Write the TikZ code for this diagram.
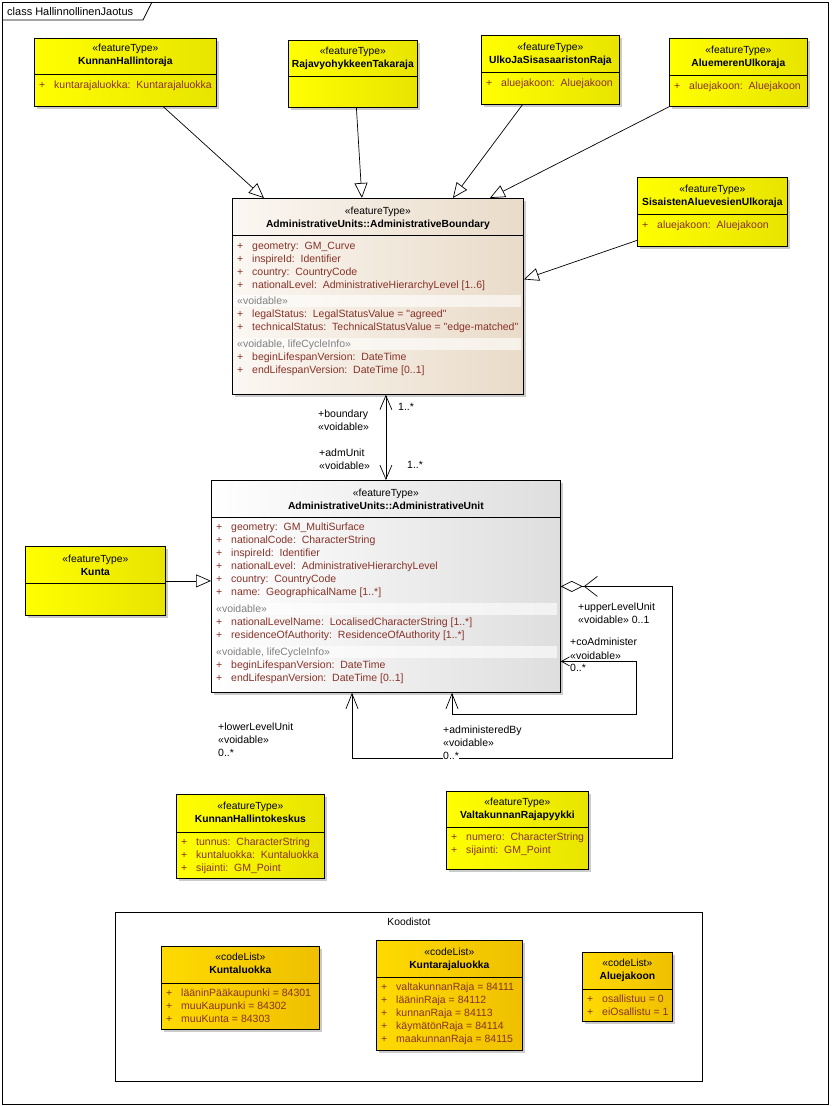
\documentclass[tikz,border=0pt]{standalone}
\usepackage{fontspec}
\setmainfont{Liberation Sans}[Ligatures=TeXOff]
\usetikzlibrary{arrows.meta, positioning, calc, shadows}
\definecolor{featY}{RGB}{255,255,0}
\definecolor{featYd}{RGB}{232,228,0}
\definecolor{codeY}{RGB}{255,218,0}
\definecolor{codeYd}{RGB}{238,192,0}
\definecolor{bndL}{RGB}{251,247,242}
\definecolor{bndR}{RGB}{233,219,201}
\definecolor{unitR}{RGB}{222,222,222}
\definecolor{attrC}{RGB}{135,50,40}
\definecolor{secC}{RGB}{128,128,128}
\newcommand{\pl}{\makebox[15pt][l]{+}}

\begin{document}
\begin{tikzpicture}[x=1pt, y=-1pt,
  cls/.style={draw=black, line width=0.8pt, anchor=north west, inner sep=0pt, drop shadow={shadow xshift=3pt, shadow yshift=-3pt, fill=black!40, opacity=0.5}},
  ftype/.style={cls, left color=featY, right color=featYd},
  clist/.style={cls, left color=codeY, right color=codeYd},
  hdr/.style={anchor=north, align=center, inner sep=0pt, font=\fontsize{10.3}{13}\selectfont},
  attr/.style={anchor=north west, align=left, inner sep=0pt, text=attrC, font=\fontsize{10.5}{13}\selectfont},
  lbl/.style={anchor=north west, align=left, inner sep=0pt, font=\fontsize{10.5}{13}\selectfont},
  band/.style={fill=white, opacity=0.6},
  gen/.style={line width=0.7pt, -{Triangle[fill=white, length=15pt, width=13pt]}},
  assoc/.style={line width=0.7pt}
]
  \useasboundingbox (0,0) rectangle (832,1106);
  \fill[white] (0,0) rectangle (832,1106);

  % frame
  \draw[line width=0.8pt] (2,2) rectangle (828,1104);
  \draw[line width=0.8pt] (2,20) -- (143,20) -- (152,2);
  \node[lbl, font=\fontsize{11}{13}\selectfont] (title) at (7,7) {class HallinnollinenJaotus};

  % feature types, top row
  \node[ftype, minimum width=182pt, minimum height=68pt] (kh) at (34,38) {};
  \node[hdr] (kh-t) at (kh.north |- 0,44) {«featureType»\\\textbf{KunnanHallintoraja}};
  \draw[line width=0.8pt] (kh.west |- 0,74) -- (kh.east |- 0,74);
  \node[attr] (kh-a) at (39,81) {\pl kuntarajaluokka:\ \ Kuntarajaluokka};

  \node[ftype, minimum width=129pt, minimum height=67pt] (rv) at (288,40) {};
  \node[hdr] (rv-t) at (rv.north |- 0,47) {«featureType»\\\textbf{RajavyohykkeenTakaraja}};
  \draw[line width=0.8pt] (rv.west |- 0,76) -- (rv.east |- 0,76);

  \node[ftype, minimum width=138pt, minimum height=69pt] (us) at (481,35) {};
  \node[hdr] (us-t) at (us.north |- 0,43) {«featureType»\\\textbf{UlkoJaSisasaaristonRaja}};
  \draw[line width=0.8pt] (us.west |- 0,72) -- (us.east |- 0,72);
  \node[attr] (us-a) at (486,79) {\pl aluejakoon:\ \ Aluejakoon};

  \node[ftype, minimum width=138pt, minimum height=68pt] (am) at (669,38) {};
  \node[hdr] (am-t) at (am.north |- 0,46) {«featureType»\\\textbf{AluemerenUlkoraja}};
  \draw[line width=0.8pt] (am.west |- 0,75) -- (am.east |- 0,75);
  \node[attr] (am-a) at (674,82) {\pl aluejakoon:\ \ Aluejakoon};

  \node[ftype, minimum width=150pt, minimum height=69pt] (sa) at (637,177) {};
  \node[hdr] (sa-t) at (sa.north |- 0,185) {«featureType»\\\textbf{SisaistenAluevesienUlkoraja}};
  \draw[line width=0.8pt] (sa.west |- 0,214) -- (sa.east |- 0,214);
  \node[attr] (sa-a) at (642,221) {\pl aluejakoon:\ \ Aluejakoon};

  % AdministrativeBoundary
  \node[cls, left color=bndL, right color=bndR, minimum width=291pt, minimum height=196pt] (ab) at (232,198) {};
  \node[hdr] (ab-t) at (ab.north |- 0,207) {«featureType»\\\textbf{AdministrativeUnits::AdministrativeBoundary}};
  \draw[line width=0.8pt] (ab.west |- 0,235) -- (ab.east |- 0,235);
  \fill[band] (233,295) rectangle (521,307);
  \fill[band] (233,338) rectangle (521,350);
  \node[attr] (ab-a1) at (237,242) {\pl geometry:\ \ GM\_Curve\\\pl inspireId:\ \ Identifier\\\pl country:\ \ CountryCode\\\pl nationalLevel:\ \ AdministrativeHierarchyLevel [1..6]};
  \node[attr] (ab-a2) at (237,297) {\textcolor{secC}{«voidable»}\\\pl legalStatus:\ \ LegalStatusValue = "agreed"\\\pl technicalStatus:\ \ TechnicalStatusValue = "edge-matched"};
  \node[attr] (ab-a3) at (237,340) {\textcolor{secC}{«voidable, lifeCycleInfo»}\\\pl beginLifespanVersion:\ \ DateTime\\\pl endLifespanVersion:\ \ DateTime [0..1]};

  % AdministrativeUnit
  \node[cls, left color=white, right color=unitR, minimum width=349pt, minimum height=212pt] (au) at (211,480) {};
  \node[hdr] (au-t) at (au.north |- 0,489) {«featureType»\\\textbf{AdministrativeUnits::AdministrativeUnit}};
  \draw[line width=0.8pt] (au.west |- 0,517) -- (au.east |- 0,517);
  \fill[band] (212,603) rectangle (557,615);
  \fill[band] (212,646) rectangle (557,658);
  \node[attr] (au-a1) at (216,523) {\pl geometry:\ \ GM\_MultiSurface\\\pl nationalCode:\ \ CharacterString\\\pl inspireId:\ \ Identifier\\\pl nationalLevel:\ \ AdministrativeHierarchyLevel\\\pl country:\ \ CountryCode\\\pl name:\ \ GeographicalName [1..*]};
  \node[attr] (au-a2) at (216,605) {\textcolor{secC}{«voidable»}\\\pl nationalLevelName:\ \ LocalisedCharacterString [1..*]\\\pl residenceOfAuthority:\ \ ResidenceOfAuthority [1..*]};
  \node[attr] (au-a3) at (216,648) {\textcolor{secC}{«voidable, lifeCycleInfo»}\\\pl beginLifespanVersion:\ \ DateTime\\\pl endLifespanVersion:\ \ DateTime [0..1]};

  % Kunta
  \node[ftype, minimum width=140pt, minimum height=69pt] (kunta) at (25,546) {};
  \node[hdr] (kunta-t) at (kunta.north |- 0,555) {«featureType»\\\textbf{Kunta}};
  \draw[line width=0.8pt] (kunta.west |- 0,583) -- (kunta.east |- 0,583);

  % lower feature types
  \node[ftype, minimum width=148pt, minimum height=84pt] (hk) at (176,794) {};
  \node[hdr] (hk-t) at (hk.north |- 0,802) {«featureType»\\\textbf{KunnanHallintokeskus}};
  \draw[line width=0.8pt] (hk.west |- 0,832) -- (hk.east |- 0,832);
  \node[attr] (hk-a) at (181,838) {\pl tunnus:\ \ CharacterString\\\pl kuntaluokka:\ \ Kuntaluokka\\\pl sijainti:\ \ GM\_Point};

  \node[ftype, minimum width=142pt, minimum height=78pt] (vr) at (446,791) {};
  \node[hdr] (vr-t) at (vr.north |- 0,798) {«featureType»\\\textbf{ValtakunnanRajapyykki}};
  \draw[line width=0.8pt] (vr.west |- 0,827) -- (vr.east |- 0,827);
  \node[attr] (vr-a) at (451,833) {\pl numero:\ \ CharacterString\\\pl sijainti:\ \ GM\_Point};

  % code lists
  \node[draw=black, line width=0.8pt, anchor=north west, minimum width=587pt, minimum height=169pt] (pkg) at (115,912) {};
  \node[hdr] (pkg-t) at (pkg.north |- 0,918) {Koodistot};

  \node[clist, minimum width=158pt, minimum height=83pt] (kl) at (161,946) {};
  \node[hdr] (kl-t) at (kl.north |- 0,953) {«codeList»\\\textbf{Kuntaluokka}};
  \draw[line width=0.8pt] (kl.west |- 0,983) -- (kl.east |- 0,983);
  \node[attr] (kl-a) at (166,989) {\pl lääninPääkaupunki = 84301\\\pl muuKaupunki = 84302\\\pl muuKunta = 84303};

  \node[clist, minimum width=146pt, minimum height=110pt] (kr) at (376,940) {};
  \node[hdr] (kr-t) at (kr.north |- 0,948) {«codeList»\\\textbf{Kuntarajaluokka}};
  \draw[line width=0.8pt] (kr.west |- 0,977) -- (kr.east |- 0,977);
  \node[attr] (kr-a) at (381,983) {\pl valtakunnanRaja = 84111\\\pl lääninRaja = 84112\\\pl kunnanRaja = 84113\\\pl käymätönRaja = 84114\\\pl maakunnanRaja = 84115};

  \node[clist, minimum width=90pt, minimum height=69pt] (aj) at (582,952) {};
  \node[hdr] (aj-t) at (aj.north |- 0,959) {«codeList»\\\textbf{Aluejakoon}};
  \draw[line width=0.8pt] (aj.west |- 0,989) -- (aj.east |- 0,989);
  \node[attr] (aj-a) at (587,995) {\pl osallistuu = 0\\\pl eiOsallistu = 1};

  % generalizations
  \draw[gen] ([xshift=38pt]kh.south) -- ([xshift=-114pt]ab.north);
  \draw[gen] ([xshift=3.5pt]rv.south) -- ([xshift=-16pt]ab.north);
  \draw[gen] ([xshift=-28pt]us.south) -- ([xshift=75pt]ab.north);
  \draw[gen] (am.south west) -- ([xshift=112pt]ab.north);
  \draw[gen] ([yshift=-28.5pt]sa.west) -- ([yshift=17pt]ab.east);
  \draw[gen] (kunta.east) -- (kunta.east -| au.west);

  % associations
  \draw[assoc, {Straight Barb[length=14pt, width=12pt]}-{Straight Barb[length=14pt, width=12pt]}] (au.north |- ab.south) -- (au.north);

  \coordinate (upC) at (672,758);
  \coordinate (lowC) at (352,758);
  \draw[assoc, {Straight Barb[length=13pt, width=20pt]}-{Straight Barb[length=15pt, width=12pt]}] ([xshift=23pt]au.east) -| (upC) -- (lowC) -- (lowC |- au.south);
  \draw[assoc, -{Diamond[fill=white, length=22pt, width=11pt]}] ([xshift=23pt]au.east) -- (au.east);

  \coordinate (coC) at (636,714);
  \coordinate (admC) at (452,714);
  \draw[assoc, {Straight Barb[length=8pt, width=9pt]}-{Straight Barb[length=15pt, width=12pt]}] ([yshift=-75pt]au.east) -| (coC) -- (admC) -- (admC |- au.south);

  % role labels
  \node[lbl] (b-role) at (318,410) {+boundary\\«voidable»};
  \node[lbl] (b-mult) at (398,403) {1..*};
  \node[lbl] (u-role) at (319,449) {+admUnit\\«voidable»};
  \node[lbl] (u-mult) at (407,461) {1..*};
  \node[lbl] (up-role) at (578,603) {+upperLevelUnit\\«voidable» 0..1};
  \node[lbl] (co-role) at (570,638) {+coAdminister};
  \node[lbl, fill=white, inner ysep=1.5pt] (co-v) at (570,650.5) {«voidable»};
  \node[lbl] (co-m) at (570,664) {0..*};
  \node[lbl] (low-role) at (218,723) {+lowerLevelUnit\\«voidable»\\0..*};
  \node[lbl] (adm-role) at (443,726) {+administeredBy\\«voidable»};
  \node[lbl, fill=white, inner ysep=1.5pt] (adm-m) at (443,750.5) {0..*};
\end{tikzpicture}
\end{document}
